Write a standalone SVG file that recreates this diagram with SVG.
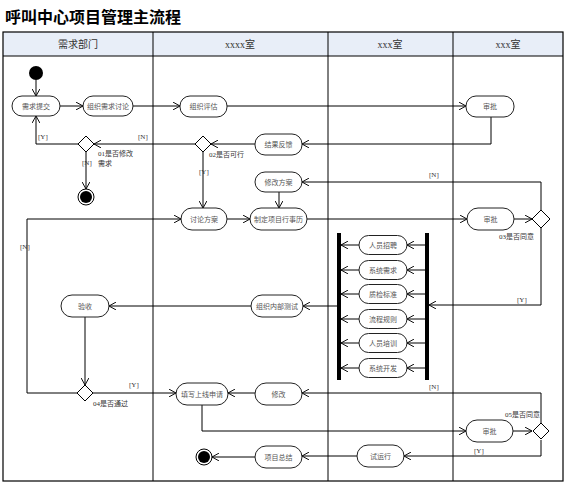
<svg xmlns="http://www.w3.org/2000/svg" width="570" height="486" viewBox="0 0 570 486">
<style>
.ln{fill:none;stroke:#000;stroke-width:1}
.nd{fill:#fff;stroke:#222;stroke-width:1}
.nt{font-family:"Noto Sans CJK SC","Liberation Sans",sans-serif;font-size:7px;fill:#555;text-anchor:middle}
.lb{font-family:"Liberation Serif","Noto Sans CJK SC",serif;font-size:7px;fill:#333}
.hd{font-family:"Liberation Serif","Noto Sans CJK SC",serif;font-size:10px;fill:#333;text-anchor:middle}
.dm{fill:#fff;stroke:#000;stroke-width:1}
</style>
<defs>
<marker id="ar" viewBox="0 0 10 10" refX="9" refY="5" markerWidth="8" markerHeight="8" markerUnits="userSpaceOnUse" orient="auto">
<path d="M0,0 L9,5 L0,10" fill="none" stroke="#000" stroke-width="1.2"/>
</marker>
</defs>
<rect width="570" height="486" fill="#fff"/>
<text x="5" y="23" font-family="Noto Sans CJK SC,sans-serif" font-size="16" font-weight="bold" fill="#000">呼叫中心项目管理主流程</text>
<g id="table">
<rect x="3" y="32" width="560" height="24" fill="#E8EEF8"/>
<rect x="3" y="32" width="560" height="449" fill="none" stroke="#000" stroke-width="1.2"/>
<line x1="3" y1="56" x2="563" y2="56" stroke="#000"/>
<line x1="153" y1="32" x2="153" y2="481" stroke="#000"/>
<line x1="328" y1="32" x2="328" y2="481" stroke="#000"/>
<line x1="453" y1="32" x2="453" y2="481" stroke="#000"/>
<text class="hd" x="78" y="48">需求部门</text>
<text class="hd" x="240" y="48">xxxx室</text>
<text class="hd" x="390" y="48">xxx室</text>
<text class="hd" x="508" y="48">xxx室</text>
</g>
<g id="connectors">
<path class="ln" d="M36,80 L36,96" marker-end="url(#ar)"/>
<path class="ln" d="M60,106 L83,106" marker-end="url(#ar)"/>
<path class="ln" d="M133,106 L180,106" marker-end="url(#ar)"/>
<path class="ln" d="M227,106 L466,106" marker-end="url(#ar)"/>
<path class="ln" d="M491,117 L491,144 L302,144" marker-end="url(#ar)"/>
<path class="ln" d="M255,144 L211,144" marker-end="url(#ar)"/>
<path class="ln" d="M195,144 L94,144" marker-end="url(#ar)"/>
<path class="ln" d="M78,144 L36,144 L36,116" marker-end="url(#ar)"/>
<path class="ln" d="M86,152 L86,189" marker-end="url(#ar)"/>
<path class="ln" d="M203,152 L203,208" marker-end="url(#ar)"/>
<path class="ln" d="M541,210 L541,182 L302,182" marker-end="url(#ar)"/>
<path class="ln" d="M279,192 L279,208" marker-end="url(#ar)"/>
<path class="ln" d="M227,219 L250,219" marker-end="url(#ar)"/>
<path class="ln" d="M307,219 L467,219" marker-end="url(#ar)"/>
<path class="ln" d="M514,219 L532,219" marker-end="url(#ar)"/>
<path class="ln" d="M541,228 L541,305 L429,305" marker-end="url(#ar)"/>
<path class="ln" d="M425,245 L407,245" marker-end="url(#ar)"/>
<path class="ln" d="M425,270 L407,270" marker-end="url(#ar)"/>
<path class="ln" d="M425,294 L407,294" marker-end="url(#ar)"/>
<path class="ln" d="M425,319 L407,319" marker-end="url(#ar)"/>
<path class="ln" d="M425,343 L407,343" marker-end="url(#ar)"/>
<path class="ln" d="M425,368 L407,368" marker-end="url(#ar)"/>
<path class="ln" d="M359,245 L341,245" marker-end="url(#ar)"/>
<path class="ln" d="M359,270 L341,270" marker-end="url(#ar)"/>
<path class="ln" d="M359,294 L341,294" marker-end="url(#ar)"/>
<path class="ln" d="M359,319 L341,319" marker-end="url(#ar)"/>
<path class="ln" d="M359,343 L341,343" marker-end="url(#ar)"/>
<path class="ln" d="M359,368 L341,368" marker-end="url(#ar)"/>
<path class="ln" d="M337,306 L303,306" marker-end="url(#ar)"/>
<path class="ln" d="M251,306 L109,306" marker-end="url(#ar)"/>
<path class="ln" d="M85,317 L85,385" marker-end="url(#ar)"/>
<path class="ln" d="M77,393 L27,393 L27,219 L181,219" marker-end="url(#ar)"/>
<path class="ln" d="M93,393 L176,393" marker-end="url(#ar)"/>
<path class="ln" d="M541,423 L541,393 L302,393" marker-end="url(#ar)"/>
<path class="ln" d="M255,393 L228,393" marker-end="url(#ar)"/>
<path class="ln" d="M202,404 L202,431 L466,431" marker-end="url(#ar)"/>
<path class="ln" d="M513,431 L532,431" marker-end="url(#ar)"/>
<path class="ln" d="M541,440 L541,456 L404,456" marker-end="url(#ar)"/>
<path class="ln" d="M357,456 L302,456" marker-end="url(#ar)"/>
<path class="ln" d="M255,457 L212,457" marker-end="url(#ar)"/>
<text class="lb" x="38" y="139">[Y]</text>
<text class="lb" x="138" y="139">[N]</text>
<text class="lb" x="82" y="165">[N]</text>
<text class="lb" x="199" y="174">[Y]</text>
<text class="lb" x="429" y="177">[N]</text>
<text class="lb" x="517" y="302">[Y]</text>
<text class="lb" x="20" y="249">[N]</text>
<text class="lb" x="129" y="387">[Y]</text>
<text class="lb" x="429" y="389">[N]</text>
<text class="lb" x="474" y="453">[Y]</text>
</g>
<g id="start"><circle cx="36" cy="73" r="7" fill="#000"/></g>
<g id="n_xqtj"><rect class="nd" x="12" y="96" width="48" height="20" rx="10"/><text class="nt" x="36" y="108.5">需求提交</text></g>
<g id="n_zzxqtl"><rect class="nd" x="83" y="96" width="50" height="20" rx="10"/><text class="nt" x="108" y="108.5">组织需求讨论</text></g>
<g id="n_zzpg"><rect class="nd" x="180" y="96" width="47" height="21" rx="10"/><text class="nt" x="203.5" y="109">组织评估</text></g>
<g id="n_sp1"><rect class="nd" x="466" y="96" width="48" height="21" rx="10"/><text class="nt" x="490" y="109">审批</text></g>
<g id="n_jgfk"><rect class="nd" x="255" y="134" width="47" height="21" rx="10"/><text class="nt" x="278.5" y="147">结果反馈</text></g>
<g id="d01"><polygon class="dm" points="86,136 94,144 86,152 78,144"/><text class="lb" x="98" y="156">01是否修改</text><text class="lb" x="98" y="166">需求</text></g>
<g id="d02"><polygon class="dm" points="203,136 211,144 203,152 195,144"/><text class="lb" x="209" y="157">02是否可行</text></g>
<g id="end1"><circle cx="86" cy="197" r="8" fill="#fff" stroke="#000"/><circle cx="86" cy="197" r="6" fill="#000"/></g>
<g id="n_xgfa"><rect class="nd" x="255" y="172" width="47" height="20" rx="10"/><text class="nt" x="278.5" y="184.5">修改方案</text></g>
<g id="n_tlfa"><rect class="nd" x="181" y="208" width="46" height="22" rx="11"/><text class="nt" x="204" y="221.5">讨论方案</text></g>
<g id="n_zdxm"><rect class="nd" x="250" y="208" width="57" height="22" rx="11"/><text class="nt" x="278.5" y="221.5">制定项目行事历</text></g>
<g id="n_sp2"><rect class="nd" x="467" y="208" width="47" height="22" rx="11"/><text class="nt" x="490.5" y="221.5">审批</text></g>
<g id="d03"><polygon class="dm" points="541,210 550,219 541,228 532,219"/><text class="lb" x="499" y="239">03是否同意</text></g>
<g id="bars"><rect x="337" y="233" width="4" height="147" fill="#000"/><rect x="425" y="233" width="4" height="147" fill="#000"/></g>
<g id="n_rypz"><rect class="nd" x="359" y="235.5" width="48" height="19" rx="9.5"/><text class="nt" x="383" y="247.5">人员招聘</text></g>
<g id="n_xtxq"><rect class="nd" x="359" y="260.5" width="48" height="19" rx="9.5"/><text class="nt" x="383" y="272.5">系统需求</text></g>
<g id="n_zjbz"><rect class="nd" x="359" y="284.5" width="48" height="19" rx="9.5"/><text class="nt" x="383" y="296.5">质检标准</text></g>
<g id="n_lcgz"><rect class="nd" x="359" y="309.5" width="48" height="19" rx="9.5"/><text class="nt" x="383" y="321.5">流程规则</text></g>
<g id="n_rypx"><rect class="nd" x="359" y="333.5" width="48" height="19" rx="9.5"/><text class="nt" x="383" y="345.5">人员培训</text></g>
<g id="n_xtkf"><rect class="nd" x="359" y="358.5" width="48" height="19" rx="9.5"/><text class="nt" x="383" y="370.5">系统开发</text></g>
<g id="n_zzcs"><rect class="nd" x="251" y="295" width="52" height="22" rx="11"/><text class="nt" x="277" y="308.5">组织内部测试</text></g>
<g id="n_ys"><rect class="nd" x="61" y="295" width="48" height="22" rx="11"/><text class="nt" x="85" y="308.5">验收</text></g>
<g id="d04"><polygon class="dm" points="85,385 93,393 85,401 77,393"/><text class="lb" x="93" y="406">04是否通过</text></g>
<g id="n_txsx"><rect class="nd" x="176" y="383" width="52" height="22" rx="11"/><text class="nt" x="202" y="396.5">填写上线申请</text></g>
<g id="n_xg"><rect class="nd" x="255" y="383" width="47" height="22" rx="11"/><text class="nt" x="278.5" y="396.5">修改</text></g>
<g id="n_sp3"><rect class="nd" x="466" y="420" width="47" height="22" rx="11"/><text class="nt" x="489.5" y="433.5">审批</text></g>
<g id="d05"><polygon class="dm" points="541,423 549,431 541,439 533,431"/><text class="lb" x="505" y="417">05是否同意</text></g>
<g id="n_syx"><rect class="nd" x="357" y="445" width="47" height="22" rx="11"/><text class="nt" x="380.5" y="458.5">试运行</text></g>
<g id="n_xmzj"><rect class="nd" x="255" y="446" width="47" height="22" rx="11"/><text class="nt" x="278.5" y="459.5">项目总结</text></g>
<g id="end2"><circle cx="204" cy="457" r="8" fill="#fff" stroke="#000"/><circle cx="204" cy="457" r="6" fill="#000"/></g>
</svg>
